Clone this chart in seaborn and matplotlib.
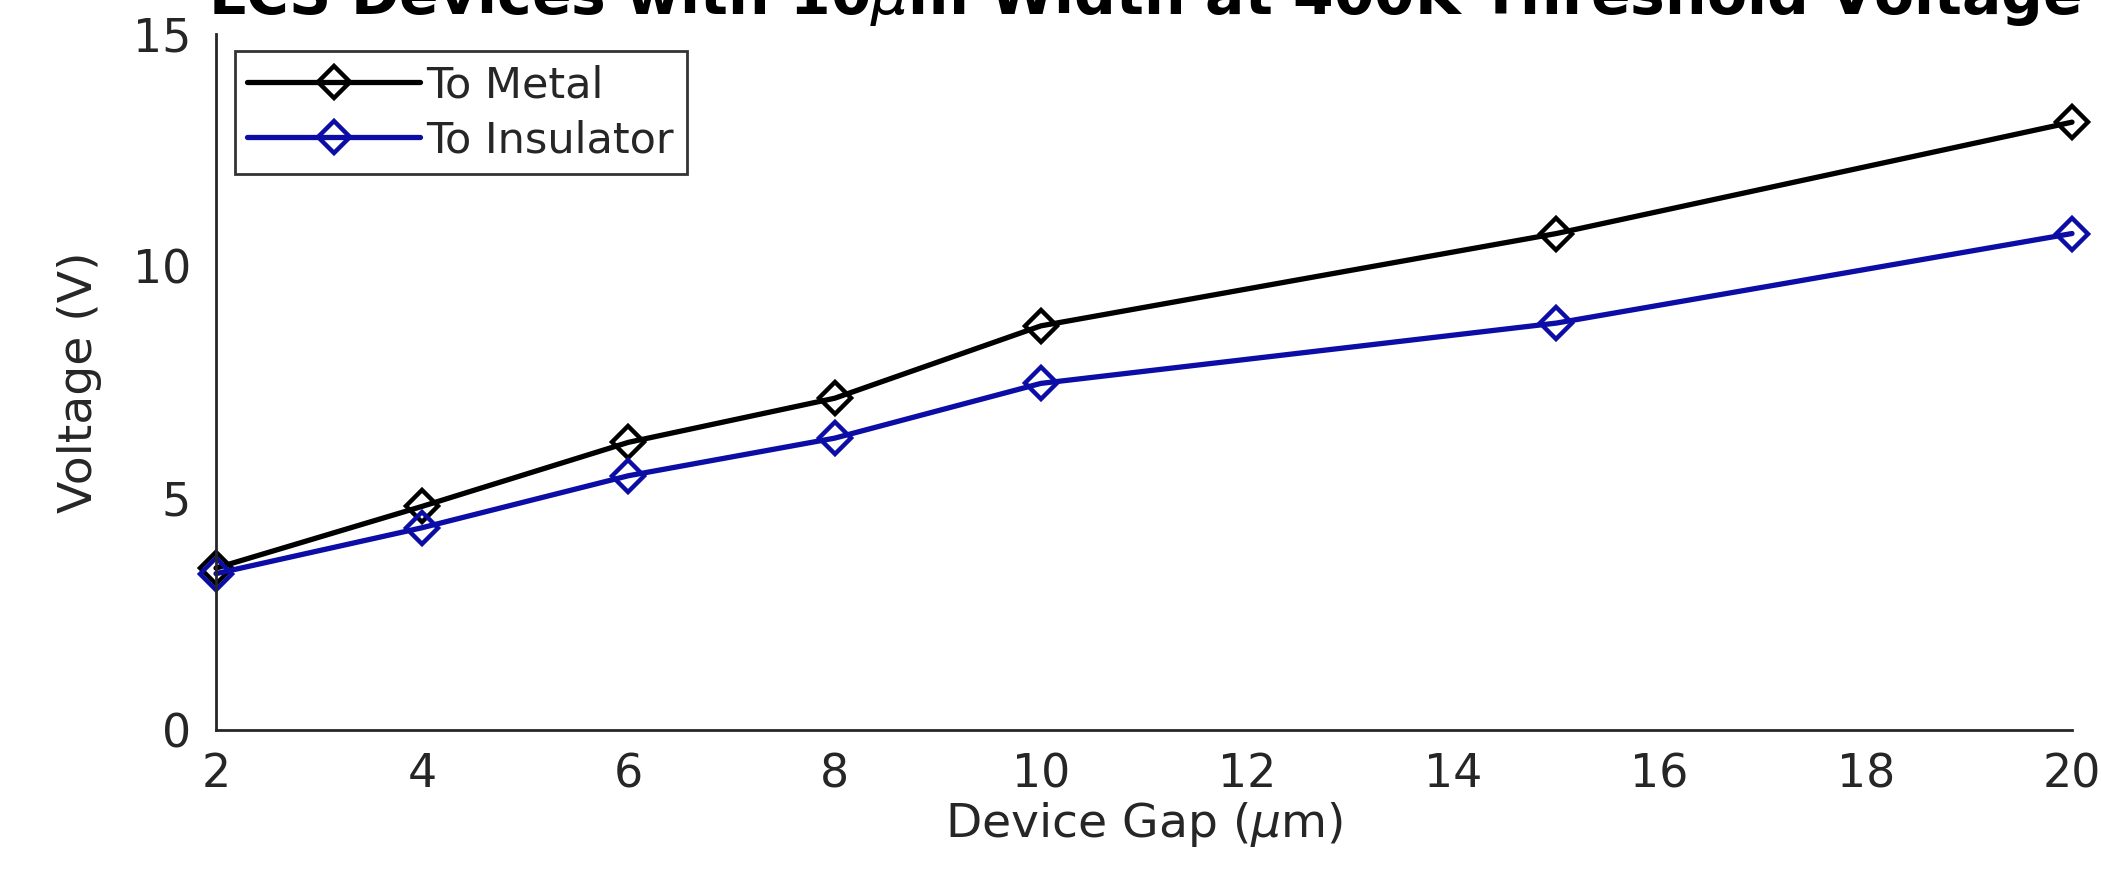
import matplotlib
matplotlib.use('Agg')
import matplotlib.pyplot as plt
import numpy as np
import pandas as pd
import seaborn as sns

# 값은 그림에서 읽음
gap = [2, 4, 6, 8, 10, 15, 20]
to_metal = [3.49, 4.82, 6.20, 7.15, 8.71, 10.70, 13.10]
to_insulator = [3.37, 4.36, 5.48, 6.29, 7.47, 8.77, 10.70]
series_names = ['To Metal', 'To Insulator']
x_ticks = [2, 4, 6, 8, 10, 12, 14, 16, 18, 20]
y_ticks = [0, 5, 10, 15]

df = pd.DataFrame({
    'gap': gap * 2,
    'voltage': to_metal + to_insulator,
    'series': [series_names[0]] * len(gap) + [series_names[1]] * len(gap),
})

sns.set_style('white')
plt.rcParams['font.family'] = ['DejaVu Sans']
txt = '#262626'

fig = plt.figure(figsize=(21.01, 8.86), dpi=100)
ax = fig.add_axes([216 / 2101, 1 - 730 / 886, (2072 - 216) / 2101, (730 - 34) / 886])

sns.lineplot(data=df, x='gap', y='voltage', hue='series', style='series',
             palette=['black', '#0c0ca6'], markers=['D', 'D'], dashes=False,
             markersize=16, markerfacecolor='none', markeredgewidth=3.2,
             linewidth=3.8, ax=ax)
for ln in ax.lines:
    ln.set_markeredgecolor(ln.get_color())
    ln.set_markerfacecolor('none')
    ln.set_clip_on(False)

ax.set_xlim(2, 20)
ax.set_ylim(0, 15)
ax.set_xticks(x_ticks)
ax.set_yticks(y_ticks)
ax.tick_params(direction='in', length=12, width=1.5, labelsize=33, colors=txt)
ax.tick_params(axis='x', pad=16)
ax.tick_params(axis='y', pad=18)
for s in ['top', 'right']:
    ax.spines[s].set_visible(False)
for s in ['left', 'bottom']:
    ax.spines[s].set_color(txt)
    ax.spines[s].set_linewidth(2)
ax.set_xlabel('Device Gap ($\\mu$m)', fontsize=34, color=txt, labelpad=2)
ax.set_ylabel('Voltage (V)', fontsize=34, color=txt, labelpad=22)

leg = ax.legend(loc='upper left', bbox_to_anchor=(0.01, 0.975), fontsize=31,
                frameon=True, fancybox=False, handlelength=4.0, handletextpad=0.15,
                borderpad=0.3, labelspacing=0.3, borderaxespad=0)
leg.get_frame().set_edgecolor('black')
leg.get_frame().set_linewidth(2)
for h in leg.get_lines():
    h.set_markerfacecolor('none')
    h.set_markeredgecolor(h.get_color())

fig.text(0.545, 1 - 14 / 886, 'LCS Devices with 10$\\mu$m Width at 400K Threshold Voltage',
         ha='center', va='baseline', fontsize=42, fontweight='bold', color='black')

fig.savefig('out.png', dpi=100)
